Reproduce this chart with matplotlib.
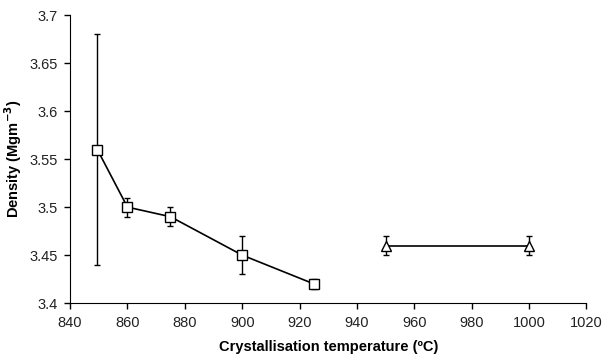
import matplotlib
matplotlib.use("Agg")
import matplotlib.pyplot as plt

plt.rcParams['font.family'] = ['Liberation Sans', 'DejaVu Sans']

# series 1: squares
temp_sq = [849.5, 860, 875, 900, 925]
dens_sq = [3.56, 3.50, 3.49, 3.45, 3.42]
err_sq = [0.12, 0.01, 0.01, 0.02, 0.005]

# series 2: triangles
temp_tri = [950, 1000]
dens_tri = [3.46, 3.46]
err_tri = [0.01, 0.01]

xticks = [840, 860, 880, 900, 920, 940, 960, 980, 1000, 1020]
yticks = [3.4, 3.45, 3.5, 3.55, 3.6, 3.65, 3.7]
ytick_labels = ["3.4", "3.45", "3.5", "3.55", "3.6", "3.65", "3.7"]

fig = plt.figure(figsize=(6.04, 3.6), dpi=100)
ax = fig.add_axes([0.116, 0.158, 0.855, 0.80])

ax.errorbar(temp_sq, dens_sq, yerr=err_sq, color='black', lw=1.2,
            marker='s', ms=6.5, mfc='white', mec='black', mew=1,
            capsize=2, elinewidth=1, capthick=1)
ax.errorbar(temp_tri, dens_tri, yerr=err_tri, color='black', lw=1.2,
            marker='^', ms=6.5, mfc='white', mec='black', mew=1,
            capsize=2, elinewidth=1, capthick=1)

ax.set_xlim(840, 1020)
ax.set_ylim(3.4, 3.7)
ax.set_xticks(xticks)
ax.set_yticks(yticks)
ax.set_yticklabels(ytick_labels)
ax.tick_params(direction='out', length=4, width=1, labelsize=10.5, pad=5,
               labelcolor='#222222')
for s in ['top', 'right']:
    ax.spines[s].set_visible(False)

ax.set_xlabel("Crystallisation temperature (ºC)", fontweight='bold', fontsize=10.5)
ax.set_ylabel("Density (Mgm$^{\\mathbf{-3}}$)", fontweight='bold', fontsize=10.5)
ax.xaxis.set_label_coords(0.5, -0.128)
ax.yaxis.set_label_coords(-0.09, 0.5)

fig.savefig("out.png", dpi=100)
